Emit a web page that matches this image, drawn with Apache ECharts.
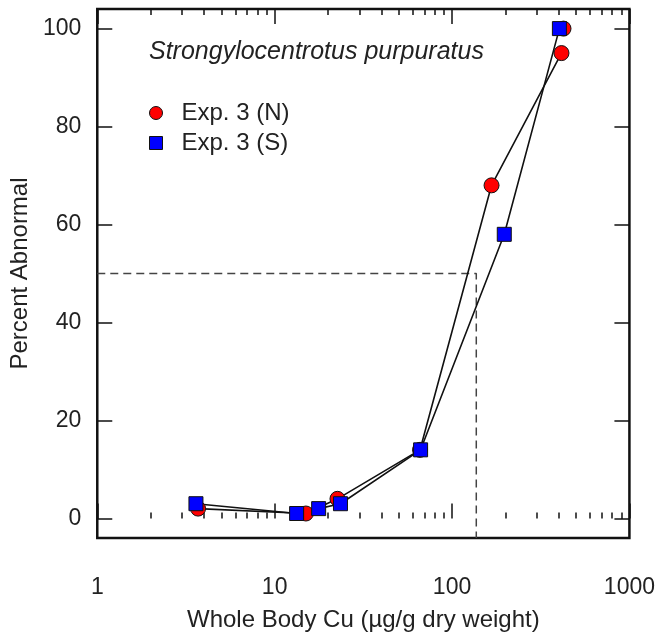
<!DOCTYPE html>
<html>
<head>
<meta charset="utf-8">
<script src="https://cdn.jsdelivr.net/npm/echarts@6/dist/echarts.min.js"></script>
<style>
  html, body { margin: 0; padding: 0; background: #fff; }
  #container { width: 658px; height: 637px; }
</style>
</head>
<body>
<div id="container"></div>
<script>
// data
var nX = [3.7, 15, 22.6, 66, 167, 414];
var nY = [2, 1, 4, 14, 68, 95];
var nExtraX = [425];
var nExtraY = [100];
var sX = [3.6, 13.3, 17.7, 23.5, 66.5, 197, 403];
var sY = [3, 1, 2, 3, 14, 58, 100];
var lc50X = 137;   // dashed guide
var lc50Y = 50;
var xMajor = [1, 10, 100, 1000];
var xMinor = [2, 3, 4, 5, 6, 7, 8, 9, 20, 30, 40, 50, 60, 70, 80, 90, 200, 300, 400, 500, 600, 700, 800, 900];
var yTicks = [0, 20, 40, 60, 80, 100];

function pairs(xs, ys) {
    var out = [];
    for (var i = 0; i < xs.length; i++) out.push([xs[i], ys[i]]);
    return out;
}

var font = 'Liberation Sans, Arial, Helvetica, sans-serif';
var myChart = echarts.init(document.getElementById('container'), null, {renderer: 'canvas'});

function xAxisDef(pos, values, len, labels) {
    return {
        type: 'log', logBase: 10, min: 1, max: 1000, position: pos,
        axisLine: {show: false},
        splitLine: {show: false},
        axisTick: {show: true, inside: true, length: len, customValues: values,
            lineStyle: {color: '#111', width: 1.5}},
        axisLabel: labels ? {show: true, customValues: values, margin: 38, fontSize: 23,
            color: '#222', fontFamily: font, formatter: function (v) { return String(v); }} : {show: false}
    };
}

var xAxes = [
    xAxisDef('bottom', xMajor, 15, true),
    xAxisDef('bottom', xMinor, 6, false),
    xAxisDef('top', xMinor, 6, false),
    xAxisDef('top', xMajor, 15, false)
];
xAxes[0].name = 'Whole Body Cu (\u00b5g/g dry weight)';
xAxes[0].nameLocation = 'middle';
xAxes[0].nameGap = 70;
xAxes[0].nameTextStyle = {fontSize: 24, color: '#222', fontFamily: font};

function yAxisDef(pos, labels) {
    return {
        type: 'value', min: -4, max: 104, position: pos,
        axisLine: {show: false},
        splitLine: {show: false},
        axisTick: {show: true, inside: true, length: 15, customValues: yTicks,
            lineStyle: {color: '#111', width: 1.5}},
        axisLabel: labels ? {show: true, customValues: yTicks, margin: 16, fontSize: 23,
            color: '#222', fontFamily: font} : {show: false}
    };
}
var yAxes = [yAxisDef('left', true), yAxisDef('right', false)];
yAxes[0].name = 'Percent Abnormal';
yAxes[0].nameLocation = 'middle';
yAxes[0].nameGap = 60;
yAxes[0].nameTextStyle = {fontSize: 24, color: '#222', fontFamily: font};

var option = {
    animation: false,
    backgroundColor: '#fff',
    title: {
        text: 'Strongylocentrotus purpuratus',
        left: 144, top: 35,
        textStyle: {fontSize: 25, fontStyle: 'italic', fontWeight: 'normal', color: '#222', fontFamily: font}
    },
    legend: {
        orient: 'vertical', left: 144, top: 96, itemGap: 6,
        itemWidth: 13, itemHeight: 13,
        data: [
            {name: 'Exp. 3 (N)', icon: 'circle', itemStyle: {color: '#ff0000', borderColor: '#111', borderWidth: 1}},
            {name: 'Exp. 3 (S)', icon: 'rect', itemStyle: {color: '#0000ff', borderColor: '#111', borderWidth: 1}}
        ],
        textStyle: {fontSize: 24, color: '#222', fontFamily: font, padding: [0, 0, 0, 14]}
    },
    grid: {
        left: 97, right: 28, top: 9, bottom: 99,
        show: true, borderColor: '#111', borderWidth: 2.5, backgroundColor: '#fff'
    },
    xAxis: xAxes,
    yAxis: yAxes,
    series: [
        {
            name: 'lc50', type: 'line', data: [[1, lc50Y], [lc50X, lc50Y], [lc50X, -4]],
            showSymbol: false, symbol: 'none', silent: true, z: 1,
            lineStyle: {color: '#444', width: 1.5, type: [8, 5]}
        },
        {
            name: 'N line', type: 'line', data: pairs(nX, nY), showSymbol: false, symbol: 'none', z: 2,
            lineStyle: {color: '#111', width: 1.6}
        },
        {
            name: 'S line', type: 'line', data: pairs(sX, sY), showSymbol: false, symbol: 'none', z: 2,
            lineStyle: {color: '#111', width: 1.6}
        },
        {
            name: 'Exp. 3 (N)', type: 'scatter', data: pairs(nX, nY).concat(pairs(nExtraX, nExtraY)),
            symbol: 'circle', symbolSize: 15, z: 3,
            itemStyle: {color: '#ff0000', borderColor: '#111', borderWidth: 1, opacity: 1}
        },
        {
            name: 'Exp. 3 (S)', type: 'scatter', data: pairs(sX, sY),
            symbol: 'rect', symbolSize: 14, z: 4,
            itemStyle: {color: '#0000ff', borderColor: '#111', borderWidth: 1, opacity: 1}
        }
    ]
};
myChart.setOption(option);
</script>
</body>
</html>
